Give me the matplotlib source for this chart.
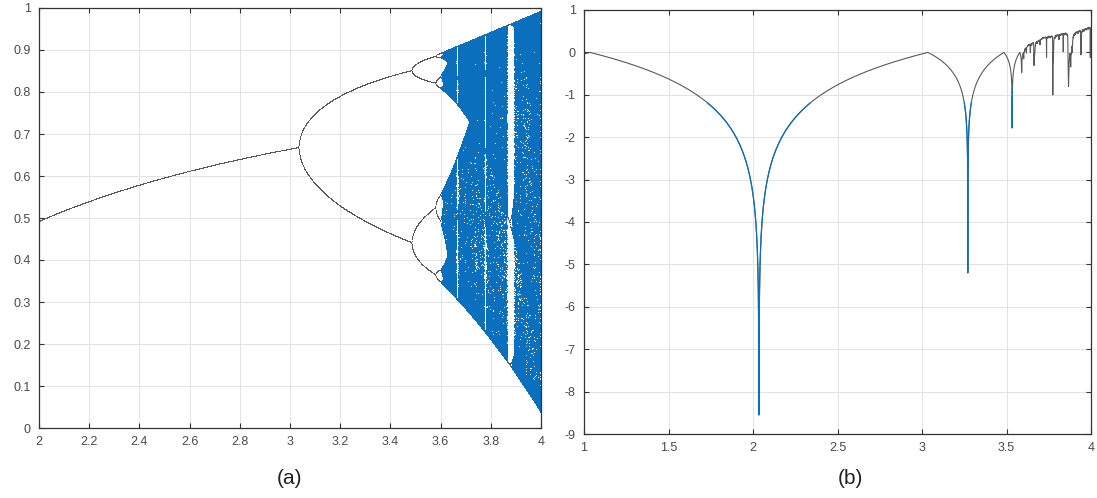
import numpy as np
import matplotlib
matplotlib.use("Agg")
import matplotlib.pyplot as plt

plt.rcParams['font.family'] = ['Liberation Sans', 'DejaVu Sans']

# Logistic map x -> r x (1 - x); the axis value sits R_OFFSET above the map parameter
R_OFFSET = 0.035

# (a) bifurcation diagram settings
bif_r_range = (2.0, 4.0)
bif_samples = 3000
bif_transient = 1000
bif_keep = 300

# (b) Lyapunov exponent settings
lyap_r_range = (1.0, 4.0)
lyap_samples = 3000
lyap_transient = 400
lyap_iter = 1200

# depths of the superstable spikes of the exponent curve
spike_r = [2.03, 3.27, 3.535, 3.875]
spike_depth = [-8.55, -5.2, -1.78, -0.8]

a_xticks = [2, 2.2, 2.4, 2.6, 2.8, 3, 3.2, 3.4, 3.6, 3.8, 4]
a_xlabels = ["2", "2.2", "2.4", "2.6", "2.8", "3", "3.2", "3.4", "3.6", "3.8", "4"]
a_yticks = [0, 0.1, 0.2, 0.3, 0.4, 0.5, 0.6, 0.7, 0.8, 0.9, 1]
a_ylabels = ["0", "0.1", "0.2", "0.3", "0.4", "0.5", "0.6", "0.7", "0.8", "0.9", "1"]
b_xticks = [1, 1.5, 2, 2.5, 3, 3.5, 4]
b_xlabels = ["1", "1.5", "2", "2.5", "3", "3.5", "4"]
b_yticks = [-9, -8, -7, -6, -5, -4, -3, -2, -1, 0, 1]
b_ylabels = ["-9", "-8", "-7", "-6", "-5", "-4", "-3", "-2", "-1", "0", "1"]

BLUE = "#0a6fbd"
GRAY = "#5a5a5a"
TICK_COLOR = "#4a4a4a"

# ---- bifurcation data ----
r_axis = np.linspace(*bif_r_range, bif_samples)
r = r_axis - R_OFFSET
x = np.full_like(r, 0.3)
for _ in range(bif_transient):
    x = r * x * (1 - x)
orbit = np.empty((bif_keep, r.size))
for i in range(bif_keep):
    x = r * x * (1 - x)
    orbit[i] = x
n_distinct = np.array([np.unique(np.round(orbit[:, j], 3)).size for j in range(r.size)])
periodic = n_distinct <= 40

R_grid = np.broadcast_to(r_axis, orbit.shape)
P_grid = np.broadcast_to(periodic, orbit.shape)

# ---- Lyapunov exponent ----
rl_axis = np.linspace(*lyap_r_range, lyap_samples)
rl = rl_axis - R_OFFSET
xl = np.full_like(rl, 0.3)
for _ in range(lyap_transient):
    xl = rl * xl * (1 - xl)
acc = np.zeros_like(rl)
for _ in range(lyap_iter):
    xl = rl * xl * (1 - xl)
    acc += np.log(np.abs(rl * (1 - 2 * xl)) + 1e-300)
lam = acc / lyap_iter
lam = np.maximum(lam, min(spike_depth))
for sr, sd in zip(spike_r, spike_depth):
    win = np.where(np.abs(rl_axis - sr) < 0.015)[0]
    k = win[np.argmin(lam[win])]
    lam[k] = sd

# ---- figure ----
fig = plt.figure(figsize=(10.97, 4.98), dpi=100)
axA = fig.add_axes([39 / 1097, 1 - 428 / 498, (541 - 39) / 1097, (428 - 8) / 498])
axB = fig.add_axes([584 / 1097, 1 - 434 / 498, (1091 - 584) / 1097, (434 - 10) / 498])

axA.plot(R_grid[P_grid], orbit[P_grid], ",", color=GRAY, rasterized=True)
axA.plot(R_grid[~P_grid], orbit[~P_grid], ",", color=BLUE, rasterized=True)
axA.set_xlim(*bif_r_range)
axA.set_ylim(0, 1)
axA.set_xticks(a_xticks, a_xlabels)
axA.set_yticks(a_yticks, a_ylabels)

axB.plot(rl_axis, lam, color=GRAY, lw=0.8)
deep = lam < -1.2
deep = deep | np.roll(deep, 1) | np.roll(deep, -1)
lam_low = np.ma.masked_where(~deep, lam)
axB.plot(rl_axis, lam_low, color=BLUE, lw=0.9)
axB.set_xlim(*lyap_r_range)
axB.set_ylim(-9, 1)
axB.set_xticks(b_xticks, b_xlabels)
axB.set_yticks(b_yticks, b_ylabels)

for ax in (axA, axB):
    ax.grid(True, color="#e3e3e3", lw=0.7)
    ax.set_axisbelow(True)
    ax.tick_params(direction="in", length=3.5, width=0.8, top=True, right=True,
                   labelsize=9, labelcolor=TICK_COLOR, color="#333333", pad=6)
    for s in ax.spines.values():
        s.set_color("#333333")
        s.set_linewidth(0.9)

fig.text(290 / 1097, 1 - 478 / 498, "(a)", ha="center", va="center", fontsize=15, color="#222222")
fig.text(850 / 1097, 1 - 478 / 498, "(b)", ha="center", va="center", fontsize=15, color="#222222")

fig.savefig("out.png", dpi=100)
